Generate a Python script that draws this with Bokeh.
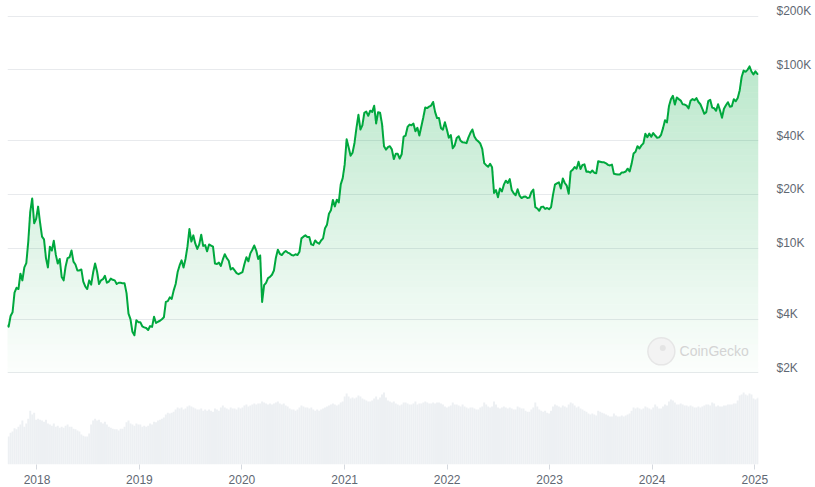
import numpy as np
import pandas as pd
from bokeh.plotting import figure
from bokeh.models import (Range1d, LogScale, FixedTicker, DatetimeTickFormatter, Label,
                          LogAxis)
from bokeh.embed import file_html
from bokeh.resources import INLINE

# ---- weekly BTC price (USD) ----
price_2017 = [3700, 3630, 4170, 4370, 5630, 6000, 5900, 7200, 6600, 7800, 8250,
              10900, 16000, 19000, 13800, 14600]
price_2018 = [17100, 13900, 11600, 11200, 8800, 7800, 10200, 9700, 11000, 9200, 8200,
              8700, 6900, 6600, 7900, 8800, 8900, 9700, 8400, 8100, 7500, 7500, 7600,
              6500, 6100, 5900, 6600, 6250, 7300, 8200, 7400, 6300, 6600, 6700, 7000,
              6400, 6500, 6750, 6650, 6600, 6300, 6400, 6400, 6350, 6350, 5600, 4300,
              4000, 3400, 3250, 3950, 3850]
price_2019 = [3850, 3650, 3600, 3570, 3480, 3660, 3620, 4130, 3810, 3870, 3920, 4000,
              4100, 5000, 5050, 5300, 5200, 5800, 6300, 7350, 8000, 8550, 7800, 8700,
              10200, 12800, 10900, 11800, 10600, 9900, 10500, 11900, 10300, 10400, 9600,
              10500, 10350, 10200, 8200, 8150, 8300, 7950, 8650, 9250, 8800, 8500, 7600,
              7750, 7500, 7250, 7150, 7250]
price_2020 = [7350, 8150, 8900, 8450, 9350, 9800, 10350, 9700, 8700, 9100, 5000, 6200,
              6400, 6800, 6900, 7100, 7500, 8850, 9800, 9300, 9150, 9450, 9650, 9450,
              9350, 9150, 9100, 9250, 9150, 9550, 11350, 11600, 11800, 11550, 11550,
              10500, 10400, 11050, 10750, 10600, 11050, 11350, 12950, 13550, 15600,
              16300, 18650, 17150, 18700, 18050, 22800, 24700]
price_2021 = [29400, 40800, 36800, 33000, 34300, 38900, 47200, 55900, 46300, 48800,
              57300, 58300, 55200, 59000, 58100, 62900, 50000, 57800, 57400, 49700,
              37300, 35700, 36800, 37300, 35800, 31600, 33800, 33800, 31800, 33600,
              42200, 42800, 47800, 49300, 48900, 49900, 45200, 47300, 42800, 48100,
              54000, 61500, 61000, 62200, 63000, 66000, 58100, 53600, 53600, 47100,
              46200, 50800, 46300]
price_2022 = [41600, 43100, 36300, 37700, 41500, 42400, 40000, 39200, 39100, 38800,
              41800, 44300, 46300, 42300, 40500, 39700, 38600, 36000, 30000, 29200,
              28600, 29700, 28400, 20400, 21200, 19300, 21600, 20800, 22700, 23900,
              23200, 24400, 21200, 20300, 19800, 21400, 19700, 19100, 19400, 19500,
              19100, 19200, 20600, 21300, 17000, 16700, 16200, 17000, 17100, 16600,
              16800, 16550]
price_2023 = [16950, 19900, 22700, 23100, 23400, 21600, 24600, 23200, 22400, 20200,
              26900, 27500, 28500, 27900, 30500, 27800, 29300, 29500, 26800, 26900,
              26500, 27250, 26500, 26300, 30700, 30500, 30300, 30300, 29900, 29300,
              29100, 29400, 26100, 26000, 25900, 25900, 26600, 26600, 26900, 27900,
              26900, 29700, 33900, 34700, 37300, 36200, 37700, 38700, 43800, 41900,
              43900, 42100]
price_2024 = [44200, 42800, 41600, 41800, 43200, 47100, 52100, 50700, 62400, 68300,
              71500, 63800, 69900, 68500, 67200, 64000, 63800, 62900, 60800, 67000,
              68500, 67500, 69400, 66000, 64100, 60300, 56700, 57900, 66700, 67900,
              61400, 60900, 58900, 64100, 59100, 53900, 60500, 63200, 65800, 62100,
              62400, 68400, 66600, 69500, 76600, 91100, 98900, 97500, 99900, 104500,
              97800, 94200]
price_2025 = [98100, 94700, 95000]

# ---- weekly traded volume (billion USD) ----
vol_2017 = [2.6, 3.4, 4.4, 4.8, 5.9, 5.5, 6.6, 7.6, 9.9, 6.6, 8.2, 11.3, 19.3, 14.9,
            16.9, 10.5]
vol_2018 = [11.3, 10.5, 9.9, 9.2, 10.5, 8.2, 7.6, 7.0, 8.2, 6.6, 7.0, 6.1, 6.6, 6.1,
            7.0, 7.6, 6.6, 6.6, 5.7, 5.5, 5.1, 4.8, 3.9, 3.6, 3.4, 3.4, 4.2, 7.6, 9.9,
            11.3, 9.9, 10.5, 8.8, 8.2, 9.2, 7.6, 6.6, 6.1, 5.7, 5.5, 5.5, 5.1, 5.7,
            5.7, 6.6, 8.8, 9.9, 8.2, 7.6, 7.0, 8.2, 7.6]
vol_2019 = [7.6, 6.6, 7.0, 6.6, 7.0, 8.2, 7.6, 9.2, 8.8, 9.9, 10.5, 11.3, 12.1, 14.9,
            16.9, 15.9, 16.9, 18.0, 20.9, 23.8, 22.3, 23.8, 20.9, 22.3, 25.5, 27.3,
            25.5, 23.8, 22.3, 20.9, 20.9, 22.3, 19.3, 20.9, 19.3, 20.9, 19.3, 18.0,
            22.3, 20.9, 19.3, 23.8, 27.3, 23.8, 22.3, 20.9, 23.8, 22.3, 22.3, 20.9,
            23.8, 22.3]
vol_2020 = [23.8, 27.3, 29.3, 25.5, 27.3, 29.3, 31.3, 29.3, 31.3, 31.3, 35.8, 33.4,
            31.3, 29.3, 31.3, 29.3, 31.3, 33.4, 35.8, 31.3, 29.3, 31.3, 27.3, 25.5,
            22.3, 20.9, 20.9, 19.3, 20.9, 23.8, 27.3, 25.5, 23.8, 23.8, 22.3, 23.8,
            20.9, 19.3, 20.9, 19.3, 20.9, 22.3, 23.8, 25.5, 27.3, 29.3, 31.3, 29.3,
            27.3, 29.3, 33.4, 35.8]
vol_2021 = [50, 61, 50, 44, 47, 44, 47, 53, 50, 44, 41, 38.3, 36, 36, 38.3, 44, 50, 41,
            47, 57, 65, 47, 38.3, 36, 33.4, 36, 31.3, 29.3, 27.3, 29.3, 33.4, 33.4,
            31.3, 29.3, 29.3, 31.3, 36, 29.3, 31.3, 31.3, 33.4, 36, 33.4, 31.3, 31.3,
            33.4, 31.3, 33.4, 33.4, 31.3, 29.3, 25.5, 23.8]
vol_2022 = [25.5, 27.3, 33.4, 29.3, 29.3, 27.3, 25.5, 29.3, 25.5, 23.8, 22.3, 23.8,
            23.8, 22.3, 20.9, 20.9, 23.8, 25.5, 33.4, 29.3, 25.5, 23.8, 25.5, 36,
            29.3, 23.8, 22.3, 23.8, 25.5, 23.8, 22.3, 23.8, 22.3, 20.9, 20.9, 25.5,
            23.8, 22.3, 22.3, 19.3, 18.0, 18.0, 20.9, 23.8, 33.4, 25.5, 20.9, 19.3,
            18.0, 19.3, 16.9, 15.9]
vol_2023 = [19.3, 25.5, 29.3, 27.3, 25.5, 23.8, 27.3, 25.5, 23.8, 29.3, 33.4, 31.3,
            27.3, 23.8, 25.5, 22.3, 20.9, 19.3, 18.0, 15.9, 14.9, 15.9, 14.9, 13.9,
            19.3, 18.0, 16.9, 15.9, 14.9, 13.9, 13.0, 13.0, 15.9, 13.9, 13.0, 13.0,
            13.9, 13.0, 13.9, 14.9, 15.9, 19.3, 23.8, 22.3, 23.8, 22.3, 20.9, 22.3,
            25.5, 23.8, 22.3, 20.9]
vol_2024 = [23.8, 29.3, 25.5, 22.3, 22.3, 25.5, 29.3, 27.3, 36, 41, 38.3, 33.4, 29.3,
            29.3, 31.3, 29.3, 27.3, 27.3, 25.5, 27.3, 25.5, 23.8, 23.8, 25.5, 23.8,
            25.5, 27.3, 29.3, 29.3, 27.3, 33.4, 31.3, 25.5, 27.3, 25.5, 25.5, 27.3,
            27.3, 29.3, 29.3, 29.3, 31.3, 31.3, 38.3, 53, 57, 65, 57, 53, 61, 57, 44]
vol_2025 = [41, 44, 47]

year_ticks = ["2018-01-01", "2019-01-01", "2020-01-01", "2021-01-01",
              "2022-01-01", "2023-01-01", "2024-01-01", "2025-01-01"]
price_ticks = [2000, 4000, 10000, 20000, 40000, 100000, 200000]
price_tick_labels = ["$2K", "$4K", "$10K", "$20K", "$40K", "$100K", "$200K"]

price = np.array(price_2017 + price_2018 + price_2019 + price_2020 + price_2021 +
                 price_2022 + price_2023 + price_2024 + price_2025, dtype=float)
volume = np.array(vol_2017 + vol_2018 + vol_2019 + vol_2020 + vol_2021 + vol_2022 +
                  vol_2023 + vol_2024 + vol_2025, dtype=float) * 1e9
dates = list(pd.date_range("2017-09-15", periods=len(price) - 1, freq="7D")) + \
    [pd.Timestamp("2025-01-14")]

# ---- layout constants ----
W, H = 814, 486
FRAME_H = 456
PX_PER_DECADE = 178.4
VOL_PX_PER_DECADE = 34.3
LABEL_LIFT_PX = 5
vol_base = 0.52e9
FONT = "Liberation Sans"
LABEL_COLOR = "#5f6873"
y_lo, y_hi = 613, 220570

x_start, x_end = pd.Timestamp("2017-09-18"), pd.Timestamp("2025-01-14")

p = figure(width=W, height=H, output_backend="svg", toolbar_location=None,
           x_axis_type="datetime", y_axis_type="log",
           x_range=Range1d(x_start, x_end),
           y_range=Range1d(y_lo, y_hi),
           min_border_left=7, min_border_right=55, min_border_top=8,
           min_border_bottom=22)
p.outline_line_color = None
p.background_fill_color = "white"
p.border_fill_color = "white"

lift = 10 ** (LABEL_LIFT_PX / PX_PER_DECADE)
p.extra_y_ranges = {
    "vol": Range1d(vol_base, vol_base * 10 ** (FRAME_H / VOL_PX_PER_DECADE)),
    "lab": Range1d(y_lo / lift, y_hi / lift),
}
p.extra_y_scales = {"vol": LogScale(), "lab": LogScale()}

# grid
p.xgrid.visible = False
p.yaxis.visible = False
p.ygrid.ticker = FixedTicker(ticks=price_ticks)
p.ygrid.grid_line_color = "#e8eaed"
p.ygrid.grid_line_width = 1

# x axis
p.xaxis.ticker = FixedTicker(ticks=[pd.Timestamp(t).value // 10**6 for t in year_ticks])
p.xaxis.formatter = DatetimeTickFormatter(years="%Y", months="%Y", days="%Y",
                                          hours="%Y", minutes="%Y")
p.xaxis.axis_line_color = None
p.xaxis.major_tick_in = 0
p.xaxis.major_tick_out = 5
p.xaxis.major_tick_line_color = "#d5d9df"
p.xaxis.minor_tick_line_color = None
p.xaxis.major_label_standoff = 5
p.xaxis.major_label_text_font = FONT
p.xaxis.major_label_text_font_size = "12px"
p.xaxis.major_label_text_color = LABEL_COLOR

# right price axis (labels sit slightly above their grid lines)
raxis = LogAxis(y_range_name="lab", ticker=FixedTicker(ticks=price_ticks),
                major_label_overrides={v: t for v, t in zip(price_ticks, price_tick_labels)})
raxis.axis_line_color = None
raxis.major_tick_line_color = None
raxis.minor_tick_line_color = None
raxis.major_tick_in = 0
raxis.major_tick_out = 0
raxis.major_label_standoff = 18
raxis.major_label_text_font = FONT
raxis.major_label_text_font_size = "12px"
raxis.major_label_text_color = LABEL_COLOR
p.add_layout(raxis, "right")

# volume bars
p.vbar(x=dates, top=volume, bottom=vol_base, width=7 * 24 * 3600 * 1000,
       y_range_name="vol", fill_color="#edf0f3", line_color=None)

# gradient fill under the price line (stacked translucent bands)
lo, hi = np.log10(2000), np.log10(125000)
N = 56
edges = 10 ** np.linspace(lo, hi, N + 1)
for k in range(N):
    a, b = edges[k], edges[k + 1]
    f = (np.log10(np.sqrt(a * b)) - lo) / (np.log10(110000) - lo)
    alpha = 0.012 + 0.255 * min(f, 1.0)
    p.varea(x=dates, y1=np.full(len(price), a), y2=np.clip(price, a, b),
            fill_color="#00a83e", fill_alpha=alpha)

# price line
p.line(x=dates, y=price, line_color="#00a83e", line_width=2, line_join="round")

# watermark
p.scatter(x=[pd.Timestamp("2024-02-03")], y=[2640], size=27,
          fill_color="#f3f3f3", line_color="#e6e6e6", line_width=1.5)
p.scatter(x=[pd.Timestamp("2024-02-08")], y=[2760], size=6,
          fill_color="#e4e4e4", line_color=None)
p.add_layout(Label(x=pd.Timestamp("2024-04-08"), y=2640, text="CoinGecko",
                   text_font=FONT, text_font_size="14px",
                   text_color="#d4d4d4", text_baseline="middle"))

open("out.html", "w").write(file_html(p, INLINE))
